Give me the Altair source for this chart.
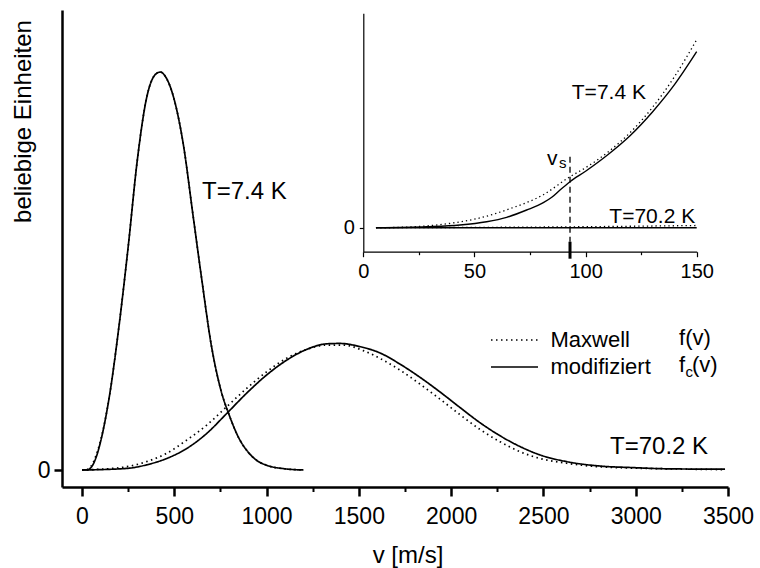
import altair as alt
import pandas as pd

FONT = "Liberation Sans"

# ---------------- main plot data (v in m/s, arbitrary units) ----------------
v_74 = [0, 25, 50, 75, 100, 150, 200, 250, 300, 350, 400, 425, 450, 500, 550,
        600, 650, 700, 750, 800, 850, 900, 950, 1000, 1100, 1200]
mod_74 = [0, 0, 0.007, 0.03, 0.07, 0.19, 0.36, 0.56, 0.78, 0.935, 0.995, 1.0,
          0.99, 0.93, 0.815, 0.645, 0.475, 0.315, 0.205, 0.135, 0.08, 0.045,
          0.023, 0.012, 0.003, 0.0]
max_74 = [0, 0.001, 0.01, 0.035, 0.073, 0.19, 0.36, 0.56, 0.78, 0.935, 0.995,
          1.0, 0.99, 0.93, 0.815, 0.645, 0.475, 0.315, 0.205, 0.135, 0.08,
          0.045, 0.023, 0.012, 0.003, 0.0]

v_702_mod = [0, 242, 350, 459, 567, 676, 784, 892, 1001, 1109, 1217, 1326, 1398,
             1506, 1615, 1723, 1831, 1940, 2048, 2156, 2265, 2373, 2481, 2626,
             2806, 2987, 3168, 3484]
mod_702 = [0, 0.004, 0.013, 0.029, 0.054, 0.092, 0.142, 0.193, 0.239, 0.276,
           0.303, 0.317, 0.318, 0.310, 0.294, 0.266, 0.233, 0.196, 0.157, 0.119,
           0.086, 0.059, 0.038, 0.021, 0.010, 0.006, 0.003, 0.002]
v_702_max = [0, 224, 350, 459, 567, 676, 784, 892, 1001, 1109, 1217, 1326, 1416,
             1524, 1632, 1723, 1831, 1940, 2048, 2156, 2265, 2373, 2481, 2626,
             2806, 3168, 3480]
max_702 = [0, 0.007, 0.021, 0.042, 0.075, 0.113, 0.159, 0.205, 0.247, 0.281,
           0.303, 0.314, 0.314, 0.300, 0.276, 0.251, 0.216, 0.178, 0.139, 0.102,
           0.071, 0.046, 0.029, 0.017, 0.008, 0.003, 0.001]

# ---------------- inset data (v in m/s) ----------------
in_v_mod74 = [5.7, 28.5, 43.5, 55.5, 64.5, 73.5, 81, 84.8, 88.5, 93, 100, 110,
              120, 130, 140, 150]
in_mod74 = [0, 0.001, 0.0027, 0.006, 0.0104, 0.0177, 0.025, 0.0304, 0.0377,
            0.046, 0.0565, 0.073, 0.092, 0.1155, 0.143, 0.176]
in_v_max74 = [5.7, 18, 36, 51, 66, 81, 93, 100, 110, 120, 130, 140, 150]
in_max74 = [0, 0.0005, 0.0035, 0.009, 0.019, 0.033, 0.051, 0.060, 0.0755,
            0.095, 0.120, 0.151, 0.188]
in_v_702 = [5.7, 50, 100, 150]
in_mod702 = [0, 0, 0, 0]
in_max702 = [0, 0.0003, 0.001, 0.0022]

v_s = [93.0]

dist_names = ["Maxwell", "modifiziert"]
curve_names = ["T=7.4 K", "T=70.2 K"]

# ---------------- annotation texts ----------------
main_label_text = ["T=7.4 K", "T=70.2 K"]
main_label_v = [650, 2861]
main_label_y = [0.681, 0.040]

f_text = ["f(v)", "f", "(v)"]
f_v = [3235, 3235, 3305]
f_y = [0.314, 0.246, 0.246]
fc_text = ["c"]
fc_v = [3270]
fc_y = [0.233]

in_label_text = ["T=7.4 K", "T=70.2 K", "v"]
in_label_v = [93.8, 110.7, 82.6]
in_label_y = [0.1284, 0.0044, 0.0627]
in_sub_text = ["s"]
in_sub_v = [88.0]
in_sub_y = [0.0597]


def rows(vs, ys, dist, curve):
    return [{"v": a, "y": b, "Verteilung": dist, "Kurve": curve} for a, b in zip(vs, ys)]


main_df = pd.DataFrame(
    rows(v_74, max_74, dist_names[0], curve_names[0])
    + rows(v_74, mod_74, dist_names[1], curve_names[0])
    + rows(v_702_max, max_702, dist_names[0], curve_names[1])
    + rows(v_702_mod, mod_702, dist_names[1], curve_names[1])
)
inset_df = pd.DataFrame(
    rows(in_v_max74, in_max74, dist_names[0], curve_names[0])
    + rows(in_v_mod74, in_mod74, dist_names[1], curve_names[0])
    + rows(in_v_702, in_max702, dist_names[0], curve_names[1])
    + rows(in_v_702, in_mod702, dist_names[1], curve_names[1])
)

W, H = 666, 477
X_MAIN = alt.Scale(domain=[-108.4, 3500], nice=False, zero=False)
Y_MAIN = alt.Scale(domain=[-0.0427, 1.1558], nice=False, zero=False)
X_IN = alt.Scale(domain=[0, 150], range=[301.3, 634.7], nice=False, zero=False)
Y_IN = alt.Scale(domain=[-0.024, 0.2144], range=[241.7, 3.3], nice=False, zero=False)

# ---------------- main curves with axes and legend ----------------
curves = alt.Chart(main_df).mark_line(color="black", strokeWidth=1.7,
                                      interpolate="monotone").encode(
    x=alt.X("v:Q", scale=X_MAIN, axis=alt.Axis(
        orient="bottom", values=list(range(0, 3501, 500)), format="d", tickSize=9,
        tickWidth=2.5, domainWidth=2.5, labelFontSize=23, labelPadding=9,
        labelFlush=False, labelOverlap=False, title="v [m/s]", titleFontSize=24,
        titleFontWeight="normal", titleX=345.5, titleY=68, titleAlign="center",
        titleBaseline="middle")),
    y=alt.Y("y:Q", scale=Y_MAIN, axis=alt.Axis(
        orient="left", values=[0], format="d", tickSize=8, tickWidth=2.5,
        domainWidth=2.5, labelFontSize=23, labelPadding=4, title="beliebige Einheiten",
        titleFontSize=24, titleFontWeight="normal", titleAngle=270,
        titleX=-38.5, titleY=111, titleAlign="center", titleBaseline="middle")),
    strokeDash=alt.StrokeDash("Verteilung:N",
        scale=alt.Scale(domain=dist_names, range=[[1.5, 3.5], [1, 0]]),
        legend=alt.Legend(orient="none", legendX=420, legendY=319, title=None,
                          symbolType="M-4.7,0H4.7", symbolSize=100,
                          symbolStrokeWidth=1.5, symbolStrokeColor="black",
                          symbolFillColor="transparent",
                          symbolOffset=21.5, labelOffset=25, rowPadding=5,
                          padding=0, labelFontSize=22, labelFont=FONT,
                          labelColor="black")),
    detail="Kurve:N",
)

minor_main = alt.Chart(main_df).mark_point(opacity=0).encode(
    x=alt.X("v:Q", scale=X_MAIN, axis=alt.Axis(
        orient="bottom", values=list(range(250, 3500, 500)), labels=False,
        domain=False, tickSize=4.5, tickWidth=2, title=None)),
    y=alt.Y("y:Q", scale=Y_MAIN, axis=None),
)

main_labels = alt.Chart(pd.DataFrame({"t": main_label_text, "v": main_label_v,
                                      "y": main_label_y})).mark_text(
    align="left", baseline="alphabetic", fontSize=24, font=FONT, color="black").encode(
    x=alt.X("v:Q", scale=X_MAIN, axis=None),
    y=alt.Y("y:Q", scale=Y_MAIN, axis=None),
    text="t:N",
)

f_labels = alt.Chart(pd.DataFrame({"t": f_text, "v": f_v, "y": f_y})).mark_text(
    align="left", baseline="alphabetic", fontSize=22, font=FONT, color="black").encode(
    x=alt.X("v:Q", scale=X_MAIN, axis=None),
    y=alt.Y("y:Q", scale=Y_MAIN, axis=None),
    text="t:N",
)
fc_labels = alt.Chart(pd.DataFrame({"t": fc_text, "v": fc_v, "y": fc_y})).mark_text(
    align="left", baseline="alphabetic", fontSize=15, font=FONT, color="black").encode(
    x=alt.X("v:Q", scale=X_MAIN, axis=None),
    y=alt.Y("y:Q", scale=Y_MAIN, axis=None),
    text="t:N",
)

# ---------------- inset ----------------
inset_dotted = alt.Chart(inset_df).transform_filter(
    alt.datum.Verteilung == dist_names[0]).mark_line(
    color="black", strokeWidth=1.3, strokeDash=[1.3, 3], interpolate="monotone").encode(
    x=alt.X("v:Q", scale=X_IN, axis=alt.Axis(
        orient="bottom", offset=-(H - 241.7), values=[0, 50, 100, 150], format="d",
        tickSize=5, tickWidth=1.2, domainWidth=1.2, labelFontSize=20, labelPadding=5,
        labelFlush=False, labelOverlap=False, title=None)),
    y=alt.Y("y:Q", scale=Y_IN, axis=alt.Axis(
        orient="left", offset=-301.3, values=[0], format="d", tickSize=4,
        tickWidth=1.2, domainWidth=1.2, labelFontSize=20, labelPadding=5, title=None)),
    detail="Kurve:N",
)
inset_solid = alt.Chart(inset_df).transform_filter(
    alt.datum.Verteilung == dist_names[1]).mark_line(
    color="black", strokeWidth=1.4, interpolate="monotone").encode(
    x=alt.X("v:Q", scale=X_IN, axis=None),
    y=alt.Y("y:Q", scale=Y_IN, axis=None),
    detail="Kurve:N",
)
minor_in = alt.Chart(inset_df).mark_point(opacity=0).encode(
    x=alt.X("v:Q", scale=X_IN, axis=alt.Axis(
        orient="bottom", offset=-(H - 241.7), values=[25, 75, 125], labels=False,
        domain=False, tickSize=3, tickWidth=1.2, title=None)),
    y=alt.Y("y:Q", scale=Y_IN, axis=None),
)

vs_df = pd.DataFrame({"v": v_s})
vs_dash = alt.Chart(vs_df).mark_rule(color="black", strokeWidth=1.3,
                                     strokeDash=[6, 4]).encode(
    x=alt.X("v:Q", scale=X_IN, axis=None),
    y=alt.Y("y0:Q", scale=Y_IN, axis=None),
    y2="y1:Q",
).transform_calculate(y0="0.071", y1="-0.014")
vs_tick = alt.Chart(vs_df).mark_rule(color="black", strokeWidth=3).encode(
    x=alt.X("v:Q", scale=X_IN, axis=None),
    y=alt.Y("y0:Q", scale=Y_IN, axis=None),
    y2="y1:Q",
).transform_calculate(y0="-0.014", y1="-0.031")

in_labels = alt.Chart(pd.DataFrame({"t": in_label_text, "v": in_label_v,
                                    "y": in_label_y})).mark_text(
    align="left", baseline="alphabetic", fontSize=21, font=FONT, color="black").encode(
    x=alt.X("v:Q", scale=X_IN, axis=None),
    y=alt.Y("y:Q", scale=Y_IN, axis=None),
    text="t:N",
)
in_sub = alt.Chart(pd.DataFrame({"t": in_sub_text, "v": in_sub_v,
                                 "y": in_sub_y})).mark_text(
    align="left", baseline="alphabetic", fontSize=15, font=FONT, color="black").encode(
    x=alt.X("v:Q", scale=X_IN, axis=None),
    y=alt.Y("y:Q", scale=Y_IN, axis=None),
    text="t:N",
)

chart = alt.layer(
    curves, minor_main, main_labels, f_labels, fc_labels,
    inset_dotted, inset_solid, minor_in, vs_dash, vs_tick, in_labels, in_sub,
).resolve_scale(
    x="independent", y="independent"
).properties(
    width=W, height=H,
    autosize=alt.AutoSizeParams(type="none"),
    padding={"left": 62, "top": 10, "right": 32, "bottom": 81},
).configure_view(
    stroke=None
).configure_axis(
    grid=False, labelFont=FONT, titleFont=FONT, labelColor="black",
    titleColor="black", domainColor="black", tickColor="black",
)

chart.save("out.html", embed_options={"renderer": "svg", "actions": False})
